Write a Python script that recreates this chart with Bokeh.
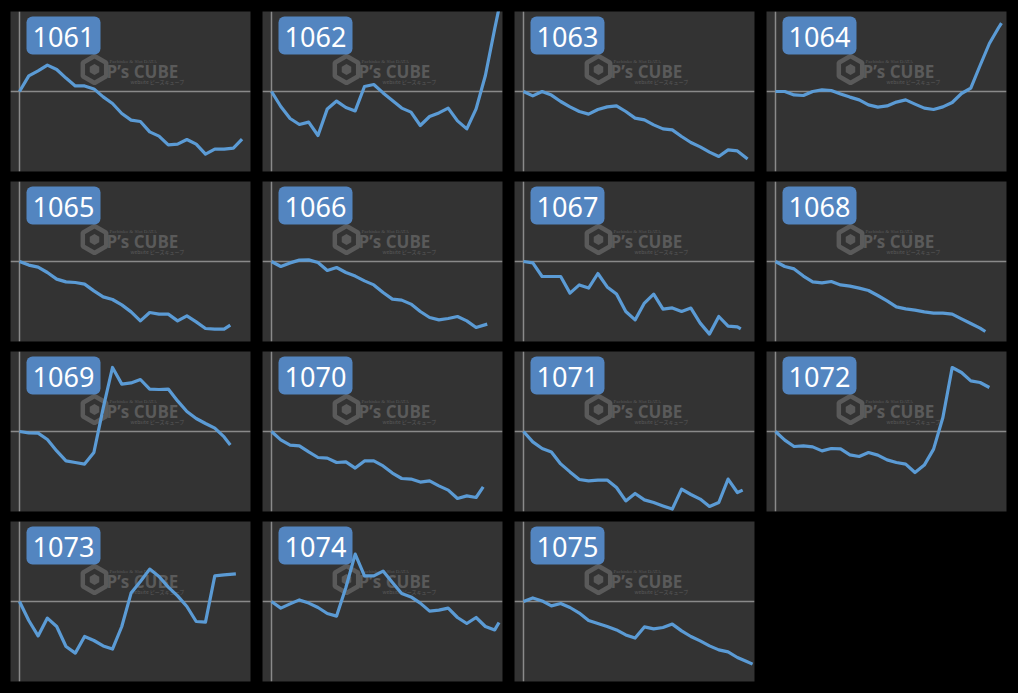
import math
from bokeh.plotting import figure
from bokeh.layouts import gridplot
from bokeh.models import Range1d, Span, BoxAnnotation, Label
from bokeh.embed import file_html
from bokeh.resources import INLINE

# ---------------- data ----------------
machines = ["1061", "1062", "1063", "1064", "1065", "1066", "1067", "1068",
            "1069", "1070", "1071", "1072", "1073", "1074", "1075"]

STEP = 300  # games between samples

diff_1061 = [0, 780, 1030, 1320, 1100, 670, 280, 280, 130, -270, -600, -1100, -1430, -1500,
             -2020, -2230, -2670, -2630, -2400, -2630, -3130, -2880, -2880, -2830, -2380]
diff_1062 = [0, -750, -1350, -1650, -1530, -2200, -870, -480, -800, -970, 250, 350, -70, -450,
             -830, -1030, -1700, -1250, -1070, -830, -1470, -1870, -870, 800, 3130, 4470]
diff_1063 = [0, -220, 0, -180, -500, -770, -1000, -1130, -900, -770, -720, -1000, -1330, -1420,
             -1670, -1870, -1920, -2250, -2550, -2770, -3030, -3250, -2920, -2970, -3370]
diff_1064 = [0, 0, -170, -200, 0, 80, 50, -120, -280, -420, -670, -780, -720, -530, -420,
             -630, -830, -900, -770, -550, -100, 170, 1300, 2400, 3200, 3420]
diff_1065 = [0, -180, -280, -550, -880, -1020, -1050, -1130, -1470, -1770, -1900, -2170, -2520,
             -2970, -2550, -2630, -2630, -2970, -2720, -3020, -3350, -3380, -3380, -3180]
diff_1066 = [0, -250, -70, 70, 80, -50, -450, -300, -550, -730, -970, -1170, -1550, -1880,
             -1930, -2130, -2500, -2800, -2920, -2850, -2750, -2970, -3300, -3130]
diff_1067 = [0, -70, -750, -750, -750, -1580, -1170, -1330, -600, -1270, -1630, -2500, -2920,
             -2080, -1630, -2380, -2320, -2500, -2330, -3080, -3630, -2750, -3230, -3270, -3370]
diff_1068 = [0, -250, -370, -730, -1020, -1070, -1000, -1170, -1230, -1330, -1450, -1700, -1970,
             -2270, -2370, -2430, -2520, -2580, -2580, -2630, -2870, -3100, -3330, -3500]
diff_1069 = [0, -70, -80, -400, -970, -1470, -1550, -1630, -1050, 1170, 3200, 2370, 2430, 2600,
             2120, 2100, 2120, 1530, 1000, 650, 400, 170, -270, -670]
diff_1070 = [0, -420, -680, -720, -1020, -1300, -1330, -1550, -1520, -1830, -1470, -1470, -1720,
             -2080, -2350, -2380, -2530, -2470, -2720, -2930, -3350, -3220, -3300, -2770]
diff_1071 = [0, -520, -850, -1020, -1620, -2020, -2400, -2470, -2430, -2430, -2800, -3470, -3100,
             -3420, -3550, -3720, -3880, -2880, -3150, -3380, -3750, -3550, -2380, -3050, -2930]
diff_1072 = [0, -430, -750, -720, -770, -970, -850, -870, -1170, -1250, -1050, -1180, -1420,
             -1550, -1630, -2050, -1680, -880, 700, 3200, 2950, 2530, 2450, 2200]
diff_1073 = [0, -950, -1720, -830, -1250, -2250, -2580, -1750, -1950, -2220, -2380, -1250, 420,
             1000, 1620, 1250, 720, 280, -250, -1000, -1030, 1280, 1330, 1380]
diff_1074 = [0, -330, -120, 80, -80, -300, -600, -730, 700, 2370, 1280, 1280, 1520, 950, 400,
             230, -80, -480, -430, -330, -800, -1100, -800, -1250, -1420, -1050]
diff_1075 = [0, 180, 30, -220, -100, -300, -580, -950, -1100, -1250, -1420, -1670, -1830, -1270,
             -1370, -1300, -1130, -1470, -1750, -1970, -2220, -2420, -2520, -2800, -3000, -3130]

total_games = [7180, 7380, 7230, 7290, 6800, 6960, 7010, 6770,
               6800, 6830, 7070, 6900, 6980, 7340, 7390]

series = [diff_1061, diff_1062, diff_1063, diff_1064, diff_1065, diff_1066, diff_1067, diff_1068,
          diff_1069, diff_1070, diff_1071, diff_1072, diff_1073, diff_1074, diff_1075]

# ---------------- style ----------------
X_RANGE = (-290, 7452)
Y_RANGE = (-4000, 4000)
FRAME_W, FRAME_H = 240, 160
PANEL_BG = "#333333"
LINE_COLOR = "#5b9bd5"
TAG_COLOR = "#5385c0"
AXIS_COLOR = "#8a8a8a"
WM_COLOR = "#5a5a5a"


def px_to_data(px, py_top):
    """frame pixel (from left / from top) -> data coords (for decorations)"""
    x = X_RANGE[0] + px * (X_RANGE[1] - X_RANGE[0]) / FRAME_W
    y = Y_RANGE[1] - py_top * (Y_RANGE[1] - Y_RANGE[0]) / FRAME_H
    return x, y


def make_panel(name, diffs, total):
    xs = [i * STEP for i in range(len(diffs) - 1)] + [total]
    p = figure(width=252, height=170,
               x_range=Range1d(*X_RANGE), y_range=Range1d(*Y_RANGE),
               output_backend="svg", toolbar_location=None,
               x_axis_location=None, y_axis_location=None,
               min_border_left=2, min_border_right=10,
               min_border_top=3, min_border_bottom=7,
               background_fill_color=PANEL_BG, border_fill_color="#000000",
               outline_line_color=None)
    p.grid.grid_line_color = None

    # zero lines
    p.add_layout(Span(location=0, dimension="height", line_color=AXIS_COLOR,
                      line_width=1.5, level="underlay"))
    p.add_layout(Span(location=0, dimension="width", line_color=AXIS_COLOR,
                      line_width=1.5, level="underlay"))

    # watermark
    hx, hy = px_to_data(84, 58)
    p.scatter([hx], [hy], marker="hex", size=27, angle=math.pi / 6, fill_color=None,
              line_color=WM_COLOR, line_width=4.5, level="underlay")
    p.scatter([hx], [hy], marker="hex", size=11, angle=math.pi / 6, fill_color=WM_COLOR,
              line_color=None, level="underlay")
    p.add_layout(Label(x=99, y=108, x_units="screen", y_units="screen",
                       text="Pachinko & Slot DATA", text_color=WM_COLOR,
                       text_font="Liberation Sans Narrow", text_font_size="5px",
                       level="underlay"))
    p.add_layout(Label(x=96, y=89, x_units="screen", y_units="screen",
                       text="P\u2019s CUBE", text_color=WM_COLOR,
                       text_font="Open Sans", text_font_style="bold",
                       text_font_size="17px", level="underlay"))
    p.add_layout(Label(x=120, y=87, x_units="screen", y_units="screen",
                       text="website ピーズキューブ", text_color=WM_COLOR,
                       text_font="Noto Sans CJK JP", text_font_size="5px",
                       level="underlay"))

    # name tag
    p.add_layout(BoxAnnotation(left=16, right=90, top=155, bottom=117,
                               left_units="screen", right_units="screen",
                               top_units="screen", bottom_units="screen",
                               fill_color=TAG_COLOR, fill_alpha=1.0,
                               line_color=None, border_radius=6, level="underlay"))
    p.add_layout(Label(x=53, y=125, x_units="screen", y_units="screen",
                       text=name, text_align="center",
                       text_color="white", text_font="Noto Sans",
                       text_font_size="27px", level="underlay"))

    p.line(xs, diffs, line_color=LINE_COLOR, line_width=3.2, line_join="round")
    return p


panels = [make_panel(n, s, t) for n, s, t in zip(machines, series, total_games)]
rows = [panels[i:i + 4] for i in range(0, len(panels), 4)]
while len(rows[-1]) < 4:
    rows[-1].append(None)

grid = gridplot(rows, toolbar_location=None)

html = file_html(grid, INLINE, title="slump graphs")
html = html.replace("</head>",
                    "<style>html, body { background: #000000 !important; }"
                    " body { margin: 8px !important; }</style></head>", 1)
open("out.html", "w").write(html)
